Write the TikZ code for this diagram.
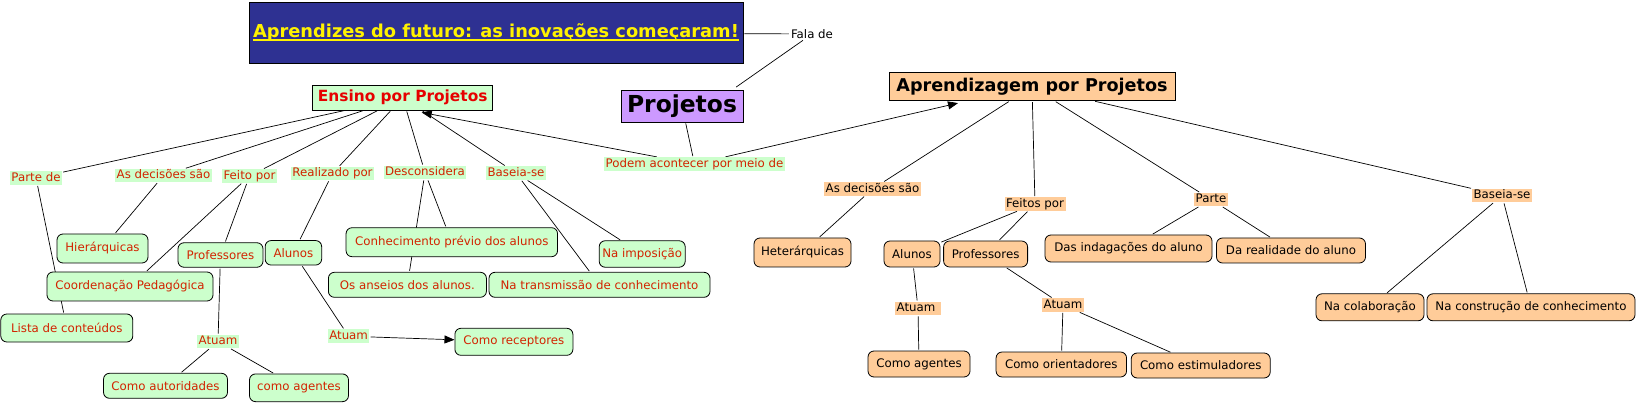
\documentclass[tikz,border=0pt]{standalone}
\usepackage{fontspec}
\setmainfont{DejaVu Sans}
\usepackage{xcolor}
\usepackage{tikz}
\usetikzlibrary{arrows.meta,backgrounds}

\definecolor{cmapgreen}{RGB}{204,255,204}
\definecolor{cmappeach}{RGB}{255,204,153}
\definecolor{cmaplilac}{RGB}{204,153,255}
\definecolor{cmapnavy}{RGB}{46,49,146}
\definecolor{cmapred}{RGB}{210,35,0}
\definecolor{cmaptitle}{RGB}{230,0,0}
\newcommand{\smalltxt}{\fontsize{11.8}{14}\selectfont}
\newcommand{\titleline}[1]{\setbox0\hbox{#1}\rlap{\usebox0}\rule[-3pt]{\wd0}{1.1pt}}

\begin{document}
\begin{tikzpicture}[
    x=1pt, y=-1pt,
    cg/.style 2 args={rectangle, draw=black, line width=0.8pt, fill=cmapgreen, rounded corners=6pt, text=cmapred, font=\smalltxt, inner sep=0pt, minimum width=#1, minimum height=#2},
    cp/.style 2 args={rectangle, draw=black, line width=0.8pt, fill=cmappeach, rounded corners=6pt, text=black, font=\smalltxt, inner sep=0pt, minimum width=#1, minimum height=#2},
    lg/.style={fill=cmapgreen, text=cmapred, font=\smalltxt, inner xsep=1.5pt, inner ysep=1pt, text height=9pt, text depth=2.5pt},
    lp/.style={fill=cmappeach, text=black, font=\smalltxt, inner xsep=1.5pt, inner ysep=1pt, text height=9pt, text depth=2.5pt},
    hd/.style={rectangle, draw=black, line width=0.8pt, inner sep=0pt, font=\bfseries},
    ln/.style={draw=black, line width=0.7pt, shorten <=1pt, shorten >=1pt},
    arr/.style={-{Triangle[length=10pt, width=8pt]}, line width=0.7pt, draw=black, shorten <=1pt}
]
    \useasboundingbox (0,0) rectangle (1638,403);

    % main concepts
    \node [hd, fill=cmapnavy, text=yellow, minimum width=494pt, minimum height=61pt, font=\bfseries\fontsize{17.8}{20}\selectfont] (titulo) at (496,32.5) {\titleline{Aprendizes do futuro: as inovações começaram!}};
    \node [font=\smalltxt, inner sep=1pt] (fala) at (812,34) {Fala de};
    \node [hd, fill=cmaplilac, minimum width=122pt, minimum height=32pt, font=\bfseries\fontsize{23.4}{26}\selectfont] (projetos) at (682,106) {Projetos};
    \node [hd, fill=cmapgreen, text=cmaptitle, minimum width=180pt, minimum height=24.5pt, font=\bfseries\fontsize{15.4}{18}\selectfont] (ensino) at (402.7,97.8) {Ensino por Projetos};
    \node [hd, fill=cmappeach, minimum width=286pt, minimum height=28pt, font=\bfseries\fontsize{17.6}{20}\selectfont] (aprend) at (1032,86.7) {Aprendizagem por Projetos};
    \node [lg] (podem) at (694.5,164) {Podem acontecer por meio de};

    % ensino por projetos
    \node [lg] (partede) at (36,178) {Parte de};
    \node [lg] (decA) at (163.5,175.5) {As decisões são};
    \node [lg] (feitoA) at (249.5,176) {Feito por};
    \node [lg] (realizado) at (332.5,173.5) {Realizado por};
    \node [lg] (descons) at (425,172.5) {Desconsidera};
    \node [lg] (baseiaA) at (516,173) {Baseia-se};

    \node [cg={91pt}{29pt}] (hier) at (102.5,248.5) {Hierárquicas};
    \node [cg={85pt}{24.5pt}] (profA) at (220.5,255) {Professores};
    \node [cg={56.5pt}{24.5pt}] (alunA) at (293.4,252.8) {Alunos};
    \node [cg={166pt}{29pt}] (coord) at (130,286.5) {Coordenação Pedagógica};
    \node [cg={132pt}{28pt}] (lista) at (66.8,328) {Lista de conteúdos};
    \node [cg={211.5pt}{29pt}] (conhec) at (451.8,242.2) {Conhecimento prévio dos alunos};
    \node [cg={158pt}{25pt}] (anseios) at (407.4,284.8) {Os anseios dos alunos.};
    \node [cg={221pt}{25pt}] (transm) at (599.5,284.8) {Na transmissão de conhecimento};
    \node [cg={86pt}{26.5pt}] (impos) at (642.2,254) {Na imposição};

    \node [lg] (atuamA) at (218,341.5) {Atuam};
    \node [lg] (atuamB) at (348.6,336.2) {Atuam};
    \node [cg={118pt}{27pt}] (recept) at (513.9,341.8) {Como receptores};
    \node [cg={124pt}{25pt}] (autor) at (165.5,385.8) {Como autoridades};
    \node [cg={99pt}{27.7pt}] (agentA) at (299,387.8) {como agentes};

    % aprendizagem por projetos
    \node [lp] (decB) at (872.5,189) {As decisões são};
    \node [lp] (feitosB) at (1035,204) {Feitos por};
    \node [lp] (parte) at (1211,199.5) {Parte};
    \node [lp] (baseiaB) at (1502,195.5) {Baseia-se};

    \node [cp={97pt}{29pt}] (heter) at (802.5,252.5) {Heterárquicas};
    \node [cp={56pt}{26pt}] (alunB) at (912,254) {Alunos};
    \node [cp={84pt}{26pt}] (profB) at (985.6,254) {Professores};
    \node [cp={167pt}{27pt}] (indag) at (1128.5,248.5) {Das indagações do aluno};
    \node [cp={149pt}{25pt}] (realid) at (1291,250.5) {Da realidade do aluno};
    \node [cp={108pt}{27pt}] (colab) at (1370,307.3) {Na colaboração};
    \node [cp={208pt}{27pt}] (constr) at (1531,307.3) {Na construção de conhecimento};

    \node [lp, minimum width=45pt, align=left] (atuamC) at (918,308.5) {Atuam\hspace{4pt}};
    \node [lp] (atuamD) at (1063,305) {Atuam};
    \node [cp={102pt}{26pt}] (agentB) at (919,364) {Como agentes};
    \node [cp={130.5pt}{25pt}] (orient) at (1061.3,364.5) {Como orientadores};
    \node [cp={139pt}{25pt}] (estim) at (1200.7,365.5) {Como estimuladores};

    % connectors
    \begin{scope}[on background layer]
    \draw [ln] (titulo) -- (fala);
    \draw [ln] (fala) -- ([xshift=-8pt,yshift=2pt]projetos.north east);
    \draw [ln] (projetos) -- (podem);
    \draw [arr] (podem) -- ([xshift=19pt,yshift=-2pt]ensino.south);
    \draw [arr] (podem) -- ([xshift=-74pt,yshift=-2pt]aprend.south);

    \draw [ln] (ensino) -- (partede);
    \draw [ln] (ensino) -- (decA);
    \draw [ln] (ensino) -- (feitoA);
    \draw [ln] (ensino) -- (realizado);
    \draw [ln] (ensino) -- (descons);
    \draw [ln] (ensino) -- (baseiaA);
    \draw [ln] (partede) -- (lista);
    \draw [ln] (decA) -- (hier);
    \draw [ln] (feitoA) -- (coord);
    \draw [ln] (feitoA) -- (profA);
    \draw [ln] (realizado) -- (alunA);
    \draw [ln] (descons) -- (conhec);
    \draw [ln] (descons) -- (anseios);
    \draw [ln] (baseiaA) -- (transm);
    \draw [ln] (baseiaA) -- (impos);
    \draw [ln] (profA) -- (atuamA);
    \draw [ln] (atuamA) -- (autor);
    \draw [ln] (atuamA) -- (agentA);
    \draw [ln] (alunA) -- (atuamB);
    \draw [arr] (atuamB) -- (recept);

    \draw [ln] (aprend) -- (decB);
    \draw [ln] (aprend) -- (feitosB);
    \draw [ln] (aprend) -- (parte);
    \draw [ln] (aprend) -- (baseiaB);
    \draw [ln] (decB) -- (heter);
    \draw [ln] (feitosB) -- (alunB);
    \draw [ln] (feitosB) -- (profB);
    \draw [ln] (alunB) -- (atuamC);
    \draw [ln] (atuamC) -- (agentB);
    \draw [ln] (profB) -- (atuamD);
    \draw [ln] (atuamD) -- (orient);
    \draw [ln] (atuamD) -- (estim);
    \draw [ln] (parte) -- (indag);
    \draw [ln] (parte) -- (realid);
    \draw [ln] (baseiaB) -- (colab);
    \draw [ln] (baseiaB) -- (constr);
    \end{scope}
\end{tikzpicture}
\end{document}
